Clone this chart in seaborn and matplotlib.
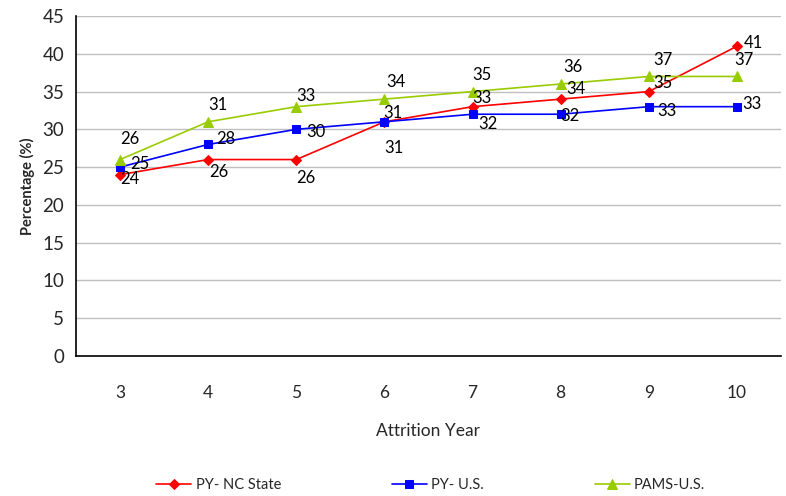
import matplotlib
matplotlib.use("Agg")
import matplotlib.pyplot as plt
import seaborn as sns
import pandas as pd
import numpy as np

years = [3, 4, 5, 6, 7, 8, 9, 10]
nc_state = [24, 26, 26, 31, 33, 34, 35, 41]
py_us = [25, 28, 30, 31, 32, 32, 33, 33]
pams_us = [26, 31, 33, 34, 35, 36, 37, 37]
series_names = ["PY- NC State", "PY- U.S.", "PAMS-U.S."]

sns.set_theme(style="white")
plt.rcParams['font.family'] = ['Lato', 'DejaVu Sans']

fig = plt.figure(figsize=(7.86, 4.96), dpi=100)
ax = fig.add_axes([0.0967, 0.2823, 0.8969, 0.6854])

colors = ["#FF0000", "#0000FF", "#99CC00"]
markers = ["D", "s", "^"]
msizes = [5, 6, 7]
# label offsets in points (dx, dy) for each series/point
offsets = [
    [(7, -3), (8, -9), (7, -13), (7, -19), (7, 6), (11, 7), (10, 6), (12, 2)],
    [(14, 2), (13, 4), (14, -2), (6, 6), (11, -7), (7, -1), (13, -3), (11, 2)],
    [(7, 15), (7, 12), (7, 8), (8, 12), (7, 12), (9, 12), (10, 12), (5, 11.5)],
]

for vals, name, c, m, ms, offs in zip([nc_state, py_us, pams_us], series_names, colors, markers, msizes, offsets):
    df = pd.DataFrame({"year": years, "value": vals})
    sns.lineplot(data=df, x="year", y="value", ax=ax, color=c, marker=m,
                 markersize=ms, markeredgecolor=c, linewidth=1.2, label=name)
    for x, y, (dx, dy) in zip(years, vals, offs):
        ax.annotate(f"{y}", (x, y), xytext=(dx, dy), textcoords="offset points",
                    ha="center", va="center", fontsize=12, color="black")

ax.set_xlim(2.5, 10.5)
ax.set_ylim(0, 45)
ax.set_yticks(np.arange(0, 46, 5))
ax.set_xticks(years)
ax.set_xticks(np.arange(2.5, 10.6, 1), minor=True)
ax.tick_params(axis="x", which="major", length=0, pad=21, labelsize=12.5)
ax.tick_params(axis="x", which="minor", length=6, width=1, color="black", direction="out")
ax.tick_params(axis="y", which="major", length=5, width=1, color="black", direction="out", labelsize=13.5)
ax.yaxis.grid(True, color="#C0C0C0", linewidth=1)
ax.set_axisbelow(True)
for s in ["top", "right"]:
    ax.spines[s].set_visible(False)
for s in ["left", "bottom"]:
    ax.spines[s].set_color("black")
    ax.spines[s].set_linewidth(1.2)

ax.set_xlabel("Attrition Year", fontsize=12.5, labelpad=16)
ax.set_ylabel("Percentage (%)", fontsize=10.5, fontweight="bold", labelpad=5)

handles, labels = ax.get_legend_handles_labels()
ax.get_legend().remove()
fig.legend(handles, labels, loc="center", bbox_to_anchor=(0.548, 0.022), ncol=3,
           frameon=False, fontsize=10.5, columnspacing=7.6, handlelength=2.4, handletextpad=0.3)

fig.savefig("out.png", dpi=100)
